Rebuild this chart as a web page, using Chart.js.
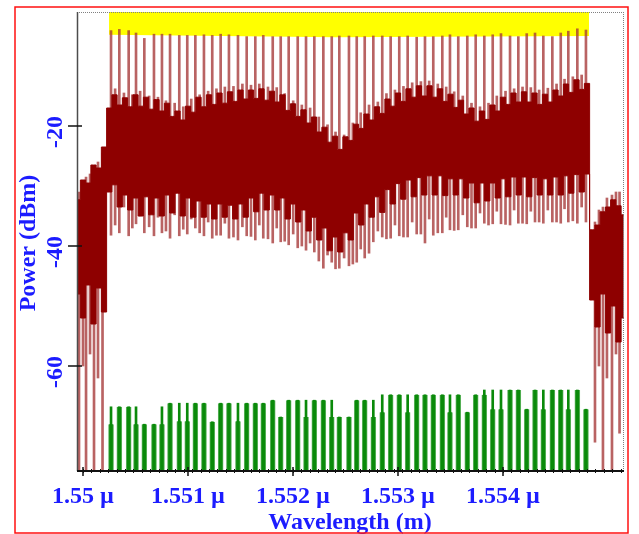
<!DOCTYPE html>
<html>
<head>
<meta charset="utf-8">
<script src="https://cdn.jsdelivr.net/npm/chart.js@4.4.1/dist/chart.umd.min.js"></script>
<style>
  html, body { margin: 0; padding: 0; background: #fff; }
  #wrap { width: 639px; height: 534px; }
</style>
</head>
<body>
<div id="wrap"><canvas id="spectrum" width="639" height="534"></canvas></div>
<script>
// Wavelength axis in micrometres, power axis in dBm
const X_MIN = 1.5499429;
const X_MAX = 1.5551524;
const Y_MIN = -77.5;
const Y_MAX = -1;

const xTickValues = [1.550, 1.551, 1.552, 1.553, 1.554];
const xTickLabels = ['1.55 \u00b5', '1.551 \u00b5', '1.552 \u00b5', '1.553 \u00b5', '1.554 \u00b5'];
const yTickValues = [-20, -40, -60];
const yTickLabels = ['-20', '-40', '-60'];

// saturated band across the comb
const bandWl = [1.550248, 1.552400, 1.554819];
const bandTop = [-1.0, -1.0, -1.0];
const bandLow = [-4.8, -5.2, -5.0];

// channel lines: position, peak and notch depth
const chanWl = [
  1.550267, 1.550346, 1.550435, 1.550505, 1.550584, 1.550676, 1.550752, 1.550829, 1.550917, 1.550993,
  1.551070, 1.551152, 1.551231, 1.551311, 1.551390, 1.551476, 1.551559, 1.551641, 1.551717, 1.551807,
  1.551883, 1.551959, 1.552045, 1.552124, 1.552203, 1.552289, 1.552369, 1.552441, 1.552533, 1.552607,
  1.552683, 1.552765, 1.552850, 1.552930, 1.553012, 1.553092, 1.553178, 1.553257, 1.553336, 1.553422,
  1.553495, 1.553574, 1.553660, 1.553740, 1.553822, 1.553902, 1.553981, 1.554067, 1.554146, 1.554226,
  1.554305, 1.554384, 1.554470, 1.554550, 1.554622, 1.554708, 1.554790
];
const chanPeak = [
  -4.1, -3.9, -4.1, -4.5, -5.4, -4.7, -4.7, -4.7, -4.9, -4.9,
  -4.9, -4.8, -4.9, -4.7, -4.8, -4.9, -5.1, -5.1, -4.9, -5.1,
  -5.1, -5.1, -5.1, -5.1, -5.1, -5.1, -5.1, -5.0, -5.0, -5.1,
  -5.1, -5.0, -5.0, -5.1, -5.1, -5.0, -5.2, -5.1, -5.1, -5.0,
  -4.8, -5.1, -5.0, -4.8, -5.0, -4.8, -4.6, -5.0, -5.1, -4.6,
  -4.5, -5.0, -5.1, -4.5, -4.2, -3.8, -4.0
];
const chanMin = [
  -38.2, -37.8, -38.3, -36.3, -37.8, -38.3, -37.8, -38.7, -38.3, -38.0,
  -37.0, -38.3, -38.7, -38.2, -38.7, -39.0, -38.3, -39.0, -38.7, -39.5,
  -39.3, -39.8, -40.3, -40.7, -41.0, -43.7, -42.7, -43.7, -43.3, -42.7,
  -42.0, -39.3, -38.5, -38.7, -38.3, -38.5, -38.0, -39.5, -38.2, -37.8,
  -37.3, -37.3, -36.8, -37.0, -36.2, -36.3, -36.3, -36.5, -36.2, -36.3,
  -36.0, -36.2, -36.0, -36.2, -36.0, -36.2, -36.0
];

// weaker lines between the channels
const midWl = [
  1.550306, 1.550390, 1.550470, 1.550544, 1.550630, 1.550714, 1.550790, 1.550873, 1.550955, 1.551031,
  1.551111, 1.551192, 1.551271, 1.551351, 1.551433, 1.551518, 1.551600, 1.551679, 1.551762, 1.551845,
  1.551921, 1.552002, 1.552084, 1.552163, 1.552246, 1.552329, 1.552405, 1.552487, 1.552570, 1.552645,
  1.552724, 1.552808, 1.552890, 1.552971, 1.553052, 1.553135, 1.553218, 1.553297, 1.553379, 1.553459,
  1.553535, 1.553617, 1.553700, 1.553781, 1.553862, 1.553941, 1.554024, 1.554106, 1.554186, 1.554265,
  1.554344, 1.554427, 1.554510, 1.554586, 1.554665, 1.554749
];
const midHigh = [
  -13.8, -14.5, -14.8, -14.2, -15.0, -15.2, -15.8, -16.2, -16.8, -15.5,
  -14.8, -14.2, -13.8, -13.5, -13.4, -13.0, -13.2, -13.0, -13.5, -13.6,
  -14.6, -15.8, -16.5, -17.0, -18.5, -19.8, -21.0, -21.5, -19.5, -17.8,
  -16.5, -16.0, -14.6, -14.0, -13.4, -12.8, -12.6, -12.5, -13.0, -13.5,
  -14.3, -15.0, -16.2, -16.8, -16.2, -15.0, -14.2, -13.8, -13.5, -13.6,
  -14.0, -13.7, -13.0, -12.2, -11.8, -11.5
];
const midLow = [
  -36.5, -33.5, -37.0, -35.0, -36.8, -35.2, -37.5, -34.8, -37.2, -35.5,
  -37.8, -36.0, -38.2, -36.2, -38.5, -36.8, -38.4, -36.5, -38.8, -37.0,
  -39.2, -38.0, -40.0, -39.5, -42.5, -41.5, -43.8, -42.0, -43.0, -40.5,
  -41.2, -37.5, -38.8, -36.5, -38.5, -36.0, -38.0, -35.5, -37.8, -35.2,
  -37.4, -34.8, -37.0, -34.5, -36.5, -34.2, -36.4, -34.0, -36.2, -34.2,
  -36.0, -34.0, -36.0, -33.8, -35.8, -33.5
];

// dense part of the spectrum: upper and lower envelope
const envWl = [
  1.54995, 1.55000, 1.55005, 1.55010, 1.55015, 1.55020, 1.55025, 1.55030, 1.55035, 1.55040,
  1.55045, 1.55050, 1.55055, 1.55060, 1.55065, 1.55070, 1.55075, 1.55080, 1.55085, 1.55090,
  1.55095, 1.55100, 1.55105, 1.55110, 1.55115, 1.55120, 1.55125, 1.55130, 1.55135, 1.55140,
  1.55145, 1.55150, 1.55155, 1.55160, 1.55165, 1.55170, 1.55175, 1.55180, 1.55185, 1.55190,
  1.55195, 1.55200, 1.55205, 1.55210, 1.55215, 1.55220, 1.55225, 1.55230, 1.55235, 1.55240,
  1.55245, 1.55250, 1.55255, 1.55260, 1.55265, 1.55270, 1.55275, 1.55280, 1.55285, 1.55290,
  1.55295, 1.55300, 1.55305, 1.55310, 1.55315, 1.55320, 1.55325, 1.55330, 1.55335, 1.55340,
  1.55345, 1.55350, 1.55355, 1.55360, 1.55365, 1.55370, 1.55375, 1.55380, 1.55385, 1.55390,
  1.55395, 1.55400, 1.55405, 1.55410, 1.55415, 1.55420, 1.55425, 1.55430, 1.55435, 1.55440,
  1.55445, 1.55450, 1.55455, 1.55460, 1.55465, 1.55470, 1.55475, 1.55480, 1.55485, 1.55490,
  1.55495, 1.55500, 1.55505, 1.55510, 1.55515
];
const envTop = [
  -32.3, -29.0, -29.5, -26.5, -27.0, -23.5, -17.0, -14.8, -16.5, -15.3,
  -16.8, -14.8, -16.7, -15.2, -17.2, -15.6, -17.5, -16.2, -18.4, -17.5,
  -19.0, -16.7, -17.7, -15.2, -16.8, -14.8, -16.4, -14.5, -16.2, -14.3,
  -15.9, -14.0, -15.5, -14.0, -15.4, -13.8, -15.7, -14.2, -16.0, -14.8,
  -17.4, -16.3, -18.4, -17.3, -19.5, -18.5, -21.0, -20.2, -22.7, -21.7,
  -23.9, -21.8, -22.4, -19.7, -20.4, -18.0, -19.0, -16.8, -17.9, -15.5,
  -16.7, -14.5, -15.9, -13.8, -15.2, -13.3, -15.0, -13.3, -15.2, -13.8,
  -15.9, -14.7, -16.9, -15.7, -18.0, -17.0, -19.2, -17.5, -18.9, -16.5,
  -17.5, -15.2, -16.4, -14.5, -16.0, -14.3, -16.0, -14.5, -16.4, -14.7,
  -16.0, -14.0, -15.0, -13.0, -14.4, -12.3, -13.9, -12.9, -37.3, -36.5,
  -34.3, -33.5, -32.3, -33.3, -34.8
];
const envLow = [
  -48.0, -52.0, -46.5, -53.0, -47.0, -51.0, -31.0, -29.8, -33.5, -31.5,
  -34.0, -32.0, -35.0, -31.8, -34.8, -32.0, -35.0, -31.5, -34.5, -31.2,
  -35.0, -32.0, -35.2, -32.5, -35.2, -33.0, -35.5, -33.0, -35.2, -33.2,
  -35.5, -33.0, -35.2, -32.0, -34.3, -31.2, -34.0, -31.5, -34.0, -32.0,
  -35.5, -33.0, -36.0, -34.0, -37.5, -35.2, -39.0, -37.0, -40.8, -38.5,
  -41.0, -37.8, -39.0, -34.5, -36.5, -33.0, -35.2, -31.8, -34.4, -30.6,
  -33.0, -29.6, -32.2, -29.0, -31.8, -28.6, -31.5, -28.3, -31.5, -28.3,
  -31.6, -28.8, -31.5, -28.8, -32.0, -29.5, -32.8, -29.5, -32.5, -29.5,
  -32.0, -28.8, -31.8, -28.5, -31.5, -28.5, -31.8, -28.6, -31.5, -28.8,
  -31.5, -28.5, -31.5, -28.3, -31.2, -28.1, -31.0, -28.0, -49.0, -53.5,
  -48.0, -54.5, -50.0, -56.0, -52.0
];

// lines in the roll-off regions outside the comb
const edgeWl = [1.549962, 1.550000, 1.550029, 1.550067, 1.550105, 1.550143, 1.550186,
                1.554876, 1.554914, 1.554952, 1.554990, 1.555038, 1.555076, 1.555110];
const edgeHigh = [-31.0, -30.0, -28.5, -28.0, -27.2, -26.0, -24.5,
                  -36.0, -34.0, -33.5, -32.0, -31.5, -31.0, -31.0];
const edgeLow = [-77.5, -60.0, -77.5, -58.0, -77.5, -62.0, -77.5,
                 -72.7, -60.0, -77.5, -62.0, -77.5, -58.0, -71.2];

// noise floor under each channel
const floorThick = [
  -69.7, -66.8, -66.8, -69.7, -69.7, -69.7, -69.7, -66.2, -69.2, -69.2,
  -66.2, -66.2, -69.3, -66.2, -66.2, -69.2, -66.2, -66.2, -66.2, -65.7,
  -68.5, -65.7, -65.7, -68.5, -65.7, -65.7, -68.5, -68.5, -68.5, -65.7,
  -65.7, -68.5, -67.7, -64.8, -64.8, -67.7, -64.8, -64.8, -64.8, -64.8,
  -67.7, -64.8, -67.7, -64.8, -64.8, -67.2, -67.2, -64.0, -64.0, -67.2,
  -64.0, -67.2, -64.0, -64.0, -67.2, -64.0, -67.2
];
const floorThin = [
  -66.8, -66.8, -66.8, -66.8, -69.7, -69.7, -66.8, -66.2, -66.2, -66.2,
  -66.2, -66.2, -69.3, -66.2, -66.2, -66.2, -66.2, -66.2, -66.2, -65.7,
  -68.5, -65.7, -65.7, -65.7, -65.7, -65.7, -65.7, -68.5, -68.5, -65.7,
  -65.7, -65.7, -64.8, -64.8, -64.8, -64.8, -64.8, -64.8, -64.8, -64.8,
  -64.8, -64.8, -67.7, -64.8, -64.0, -64.0, -64.0, -64.0, -64.0, -67.2,
  -64.0, -64.0, -64.0, -64.0, -64.0, -64.0, -67.2
];

const DARK = '#8e0000';
const SPIKE = 'rgba(165, 55, 55, 0.78)';
const GREEN = '#0a8a0a';
const BLUE = '#1c1cff';
const LABEL_FONT = 'bold 24px "Liberation Serif", "DejaVu Serif", serif';

const points = (xs, ys) => xs.map((x, i) => ({ x, y: ys[i] }));
const spans = (xs, lo, hi) => xs.map((x, i) => ({
  x, y: [Array.isArray(lo) ? lo[i] : lo, Array.isArray(hi) ? hi[i] : hi]
}));

const axisDecor = {
  id: 'axisDecor',
  afterDatasetsDraw(chart) {
    const { ctx, chartArea: area, scales } = chart;
    const xs = scales.x, ys = scales.y;
    ctx.save();

    // dotted top and right edges of the plot box
    ctx.strokeStyle = '#808080';
    ctx.lineWidth = 1;
    ctx.setLineDash([1, 1]);
    ctx.beginPath();
    ctx.moveTo(area.left, area.top + 0.5);
    ctx.lineTo(area.right, area.top + 0.5);
    ctx.moveTo(area.right - 0.5, area.top);
    ctx.lineTo(area.right - 0.5, area.bottom);
    ctx.stroke();
    ctx.setLineDash([]);

    // left axis
    ctx.strokeStyle = '#4d4d4d';
    ctx.lineWidth = 1.5;
    ctx.beginPath();
    ctx.moveTo(area.left + 0.5, area.top);
    ctx.lineTo(area.left + 0.5, area.bottom);
    ctx.stroke();

    // bottom axis
    ctx.strokeStyle = '#111';
    ctx.lineWidth = 2;
    ctx.beginPath();
    ctx.moveTo(area.left, area.bottom);
    ctx.lineTo(area.right, area.bottom);
    ctx.stroke();

    // small ticks along the bottom axis
    ctx.lineWidth = 1;
    ctx.beginPath();
    for (let v = 1.55; v < X_MAX; v += 0.00008) {
      const px = Math.round(xs.getPixelForValue(v)) + 0.5;
      ctx.moveTo(px, area.bottom - 2);
      ctx.lineTo(px, area.bottom + 2);
    }
    ctx.stroke();

    // major ticks
    ctx.lineWidth = 1.5;
    ctx.beginPath();
    xTickValues.forEach(v => {
      const px = xs.getPixelForValue(v);
      ctx.moveTo(px, area.bottom - 4);
      ctx.lineTo(px, area.bottom + 5);
    });
    yTickValues.forEach(v => {
      const py = ys.getPixelForValue(v);
      ctx.moveTo(area.left - 9, py);
      ctx.lineTo(area.left + 5, py);
    });
    ctx.stroke();

    // labels
    ctx.fillStyle = BLUE;
    ctx.font = LABEL_FONT;
    ctx.textAlign = 'center';
    ctx.textBaseline = 'alphabetic';
    xTickValues.forEach((v, i) => {
      ctx.fillText(xTickLabels[i], xs.getPixelForValue(v), 503);
    });
    ctx.fillText('Wavelength (m)', 350, 529);

    ctx.textBaseline = 'middle';
    yTickValues.forEach((v, i) => {
      ctx.save();
      ctx.translate(56, ys.getPixelForValue(v) + 6);
      ctx.rotate(-Math.PI / 2);
      ctx.fillText(yTickLabels[i], 0, 0);
      ctx.restore();
    });
    ctx.save();
    ctx.translate(29, 243);
    ctx.rotate(-Math.PI / 2);
    ctx.fillText('Power (dBm)', 0, 0);
    ctx.restore();

    // red outer frame
    ctx.strokeStyle = '#ff1010';
    ctx.lineWidth = 1.5;
    ctx.strokeRect(15, 7, 613, 526);

    ctx.restore();
  }
};

const lineBase = { type: 'line', pointRadius: 0, borderWidth: 0, tension: 0 };
const barBase = { type: 'bar', grouped: false, borderWidth: 0 };

new Chart(document.getElementById('spectrum'), {
  type: 'bar',
  data: {
    datasets: [
      { ...lineBase, label: 'band', data: points(bandWl, bandTop), backgroundColor: '#ffff00', fill: '+1', order: 10 },
      { ...lineBase, label: 'band low', data: points(bandWl, bandLow), order: 10 },
      { ...barBase, label: 'channels', data: spans(chanWl, chanMin, chanPeak), backgroundColor: SPIKE, barThickness: 2, order: 8 },
      { ...barBase, label: 'between', data: spans(midWl, midLow, midHigh), backgroundColor: SPIKE, barThickness: 2, order: 8 },
      { ...barBase, label: 'edges', data: spans(edgeWl, edgeLow, edgeHigh), backgroundColor: SPIKE, barThickness: 2, order: 8 },
      { ...lineBase, label: 'envelope', data: points(envWl, envTop), stepped: 'middle', borderWidth: 1, borderColor: DARK, backgroundColor: DARK, fill: '+1', order: 6 },
      { ...lineBase, label: 'envelope low', data: points(envWl, envLow), stepped: 'middle', borderWidth: 1, borderColor: DARK, order: 6 },
      { ...barBase, label: 'floor', data: spans(chanWl, Y_MIN, floorThin), backgroundColor: GREEN, barThickness: 2, order: 2 },
      { ...barBase, label: 'floor body', data: spans(chanWl, Y_MIN, floorThick), backgroundColor: GREEN, borderColor: '#5db35d', borderWidth: { left: 1, right: 1 }, barThickness: 5, order: 1 }
    ]
  },
  options: {
    responsive: false,
    animation: false,
    devicePixelRatio: 1,
    layout: { padding: { left: 77, top: 12, right: 15, bottom: 63 } },
    plugins: { legend: { display: false }, tooltip: { enabled: false } },
    scales: {
      x: { type: 'linear', min: X_MIN, max: X_MAX, offset: false, display: false },
      y: { type: 'linear', min: Y_MIN, max: Y_MAX, display: false }
    }
  },
  plugins: [axisDecor]
});
</script>
</body>
</html>
